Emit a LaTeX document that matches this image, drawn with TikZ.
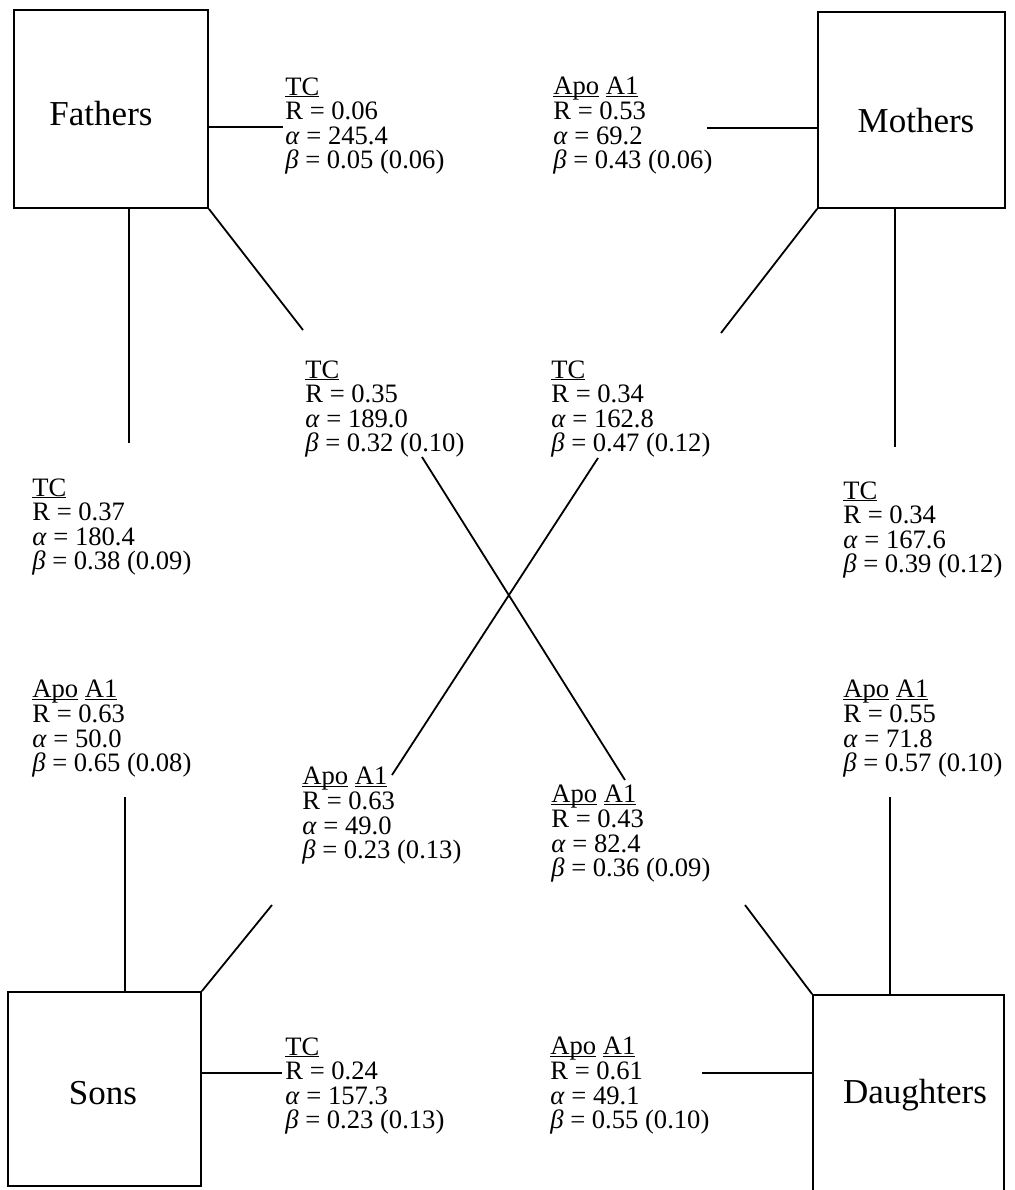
\documentclass[tikz,border=0pt]{standalone}
\usepackage{fontspec}
\setmainfont{Liberation Serif}
\newcommand\ulx[1]{\leavevmode\setbox0\hbox{#1}\rlap{\rule[-1.2pt]{\wd0}{0.6pt}}\box0\relax}
\newcommand\al{\textit{α}}
\newcommand\be{\textit{β}}
\begin{document}
\begin{tikzpicture}[x=0.5pt,y=-0.5pt,
  box/.style={draw,line width=0.9pt,rectangle,inner sep=0pt},
  boxtxt/.style={inner sep=0pt,font=\fontsize{17.5}{20}\selectfont},
  lbl/.style={anchor=north west,inner sep=0pt,align=left,font=\fontsize{13.3}{12.3}\selectfont},
  conn/.style={line width=0.9pt}]
\useasboundingbox (0,0) rectangle (1015,1190);
% boxes
\node[box,minimum width=97pt,minimum height=99pt] (F) at (111,109) {};
\node[box,minimum width=93.5pt,minimum height=98pt] (M) at (911.5,110) {};
\node[box,minimum width=96.5pt,minimum height=97pt] (S) at (104.5,1089) {};
\node[box,minimum width=95.5pt,minimum height=98.5pt] (D) at (908.5,1093.5) {};
\node[boxtxt] (Ft) at (101,114) {Fathers};
\node[boxtxt] (Mt) at (916,121) {Mothers};
\node[boxtxt] (St) at (103,1093) {Sons};
\node[boxtxt] (Dt) at (915,1095) {Daughters};
% labels
\node[lbl] (l1) at (285,77) {\ulx{TC}\\R = 0.06\\\al{} = 245.4\\\be{} = 0.05 (0.06)};
\node[lbl] (l2) at (553,77) {\ulx{Apo} \ulx{A1}\\R = 0.53\\\al{} = 69.2\\\be{} = 0.43 (0.06)};
\node[lbl] (l3) at (305,360) {\ulx{TC}\\R = 0.35\\\al{} = 189.0\\\be{} = 0.32 (0.10)};
\node[lbl] (l4) at (551,360) {\ulx{TC}\\R = 0.34\\\al{} = 162.8\\\be{} = 0.47 (0.12)};
\node[lbl] (l5) at (32,478) {\ulx{TC}\\R = 0.37\\\al{} = 180.4\\\be{} = 0.38 (0.09)};
\node[lbl] (l6) at (843,481) {\ulx{TC}\\R = 0.34\\\al{} = 167.6\\\be{} = 0.39 (0.12)};
\node[lbl] (l7) at (32,680) {\ulx{Apo} \ulx{A1}\\R = 0.63\\\al{} = 50.0\\\be{} = 0.65 (0.08)};
\node[lbl] (l8) at (843,680) {\ulx{Apo} \ulx{A1}\\R = 0.55\\\al{} = 71.8\\\be{} = 0.57 (0.10)};
\node[lbl] (l9) at (302,767) {\ulx{Apo} \ulx{A1}\\R = 0.63\\\al{} = 49.0\\\be{} = 0.23 (0.13)};
\node[lbl] (l10) at (551,785) {\ulx{Apo} \ulx{A1}\\R = 0.43\\\al{} = 82.4\\\be{} = 0.36 (0.09)};
\node[lbl] (l11) at (285,1037) {\ulx{TC}\\R = 0.24\\\al{} = 157.3\\\be{} = 0.23 (0.13)};
\node[lbl] (l12) at (550,1037) {\ulx{Apo} \ulx{A1}\\R = 0.61\\\al{} = 49.1\\\be{} = 0.55 (0.10)};
% free ends
\coordinate (fh) at (283,127);
\coordinate (fv) at (129,443);
\coordinate (fd) at (303,330);
\coordinate (mh) at (707,128);
\coordinate (md) at (721,333);
\coordinate (mv) at (895,447);
\coordinate (sv) at (125,797);
\coordinate (sd) at (272,905);
\coordinate (sh) at (282,1073);
\coordinate (dd) at (745,905);
\coordinate (dv) at (890,797);
\coordinate (dh) at (702,1073);
\coordinate (c1a) at (422,457);
\coordinate (c1b) at (625,780);
\coordinate (c2a) at (598,458);
\coordinate (c2b) at (392,775);
% connectors
\draw[conn] (F.east |- fh) -- (fh);
\draw[conn] (F.south -| fv) -- (fv);
\draw[conn] (F.south east) -- (fd);
\draw[conn] (M.west |- mh) -- (mh);
\draw[conn] (M.south west) -- (md);
\draw[conn] (M.south -| mv) -- (mv);
\draw[conn] (S.north -| sv) -- (sv);
\draw[conn] (S.north east) -- (sd);
\draw[conn] (S.east |- sh) -- (sh);
\draw[conn] (D.north west) -- (dd);
\draw[conn] (D.north -| dv) -- (dv);
\draw[conn] (D.west |- dh) -- (dh);
\draw[conn] (c1a) -- (c1b);
\draw[conn] (c2a) -- (c2b);
\end{tikzpicture}
\end{document}
